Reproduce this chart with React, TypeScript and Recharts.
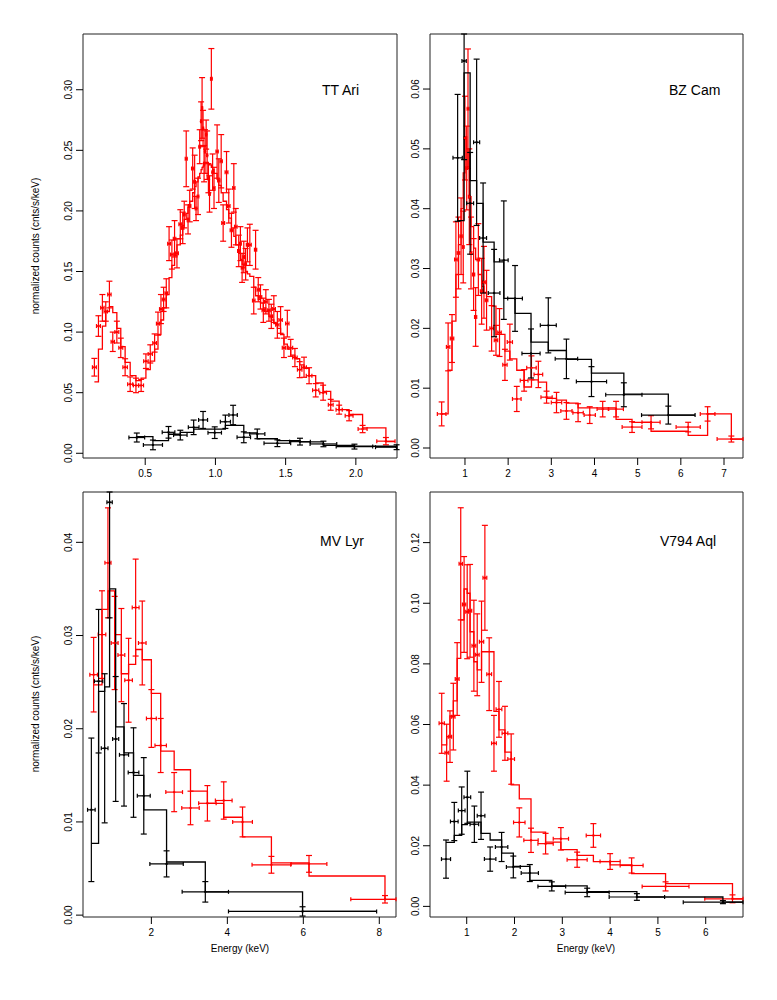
import React from "react";
import {
  ComposedChart,
  Scatter,
  Line,
  XAxis,
  YAxis,
  ErrorBar,
  ReferenceArea,
} from "recharts";

// each bin: [energy, half width, counts, error, model]
type Bin = [number, number, number, number, number];

const FONT = "'Liberation Sans', Arial, Helvetica, sans-serif";
const RED = "#ff0000";
const BLACK = "#000000";

// ---- TT Ari ----
const ttAriXTicks = [0.5, 1.0, 1.5, 2.0];
const ttAriYTicks = [0, 0.05, 0.1, 0.15, 0.2, 0.25, 0.3];

const ttAriRed: Bin[] = [
  [0.138, 0.014, 0.071, 0.0073, 0.059],
  [0.167, 0.014, 0.105, 0.0085, 0.086],
  [0.195, 0.012, 0.12, 0.011, 0.105],
  [0.219, 0.012, 0.117, 0.008, 0.117],
  [0.245, 0.012, 0.131, 0.011, 0.121],
  [0.269, 0.012, 0.092, 0.008, 0.116],
  [0.298, 0.014, 0.1, 0.009, 0.103],
  [0.326, 0.014, 0.087, 0.008, 0.088],
  [0.357, 0.016, 0.071, 0.007, 0.075],
  [0.393, 0.018, 0.057, 0.006, 0.064],
  [0.434, 0.018, 0.056, 0.006, 0.06],
  [0.471, 0.017, 0.056, 0.005, 0.062],
  [0.505, 0.016, 0.076, 0.006, 0.069],
  [0.536, 0.015, 0.082, 0.0075, 0.076],
  [0.567, 0.013, 0.091, 0.0075, 0.086],
  [0.591, 0.011, 0.107, 0.0095, 0.098],
  [0.612, 0.01, 0.119, 0.012, 0.11],
  [0.631, 0.01, 0.127, 0.01, 0.12],
  [0.65, 0.009, 0.132, 0.012, 0.131],
  [0.67, 0.01, 0.173, 0.014, 0.145],
  [0.69, 0.01, 0.164, 0.012, 0.155],
  [0.709, 0.009, 0.177, 0.015, 0.163],
  [0.726, 0.01, 0.165, 0.012, 0.172],
  [0.75, 0.01, 0.189, 0.012, 0.18],
  [0.767, 0.008, 0.186, 0.013, 0.188],
  [0.778, 0.006, 0.197, 0.011, 0.193],
  [0.792, 0.007, 0.243, 0.023, 0.198],
  [0.805, 0.006, 0.193, 0.012, 0.203],
  [0.817, 0.008, 0.204, 0.013, 0.208],
  [0.838, 0.008, 0.235, 0.017, 0.215],
  [0.852, 0.006, 0.224, 0.022, 0.22],
  [0.862, 0.006, 0.202, 0.01, 0.224],
  [0.876, 0.006, 0.212, 0.015, 0.228],
  [0.888, 0.006, 0.253, 0.014, 0.231],
  [0.898, 0.004, 0.274, 0.016, 0.234],
  [0.905, 0.004, 0.285, 0.025, 0.236],
  [0.912, 0.004, 0.268, 0.015, 0.237],
  [0.919, 0.004, 0.239, 0.015, 0.239],
  [0.926, 0.004, 0.249, 0.018, 0.24],
  [0.934, 0.004, 0.263, 0.012, 0.24],
  [0.941, 0.004, 0.246, 0.02, 0.24],
  [0.95, 0.004, 0.227, 0.012, 0.239],
  [0.958, 0.005, 0.214, 0.015, 0.238],
  [0.971, 0.006, 0.309, 0.025, 0.236],
  [0.98, 0.005, 0.232, 0.015, 0.234],
  [0.99, 0.007, 0.219, 0.017, 0.231],
  [1.012, 0.008, 0.249, 0.022, 0.226],
  [1.024, 0.008, 0.225, 0.018, 0.221],
  [1.041, 0.008, 0.241, 0.022, 0.215],
  [1.055, 0.01, 0.19, 0.015, 0.208],
  [1.079, 0.01, 0.232, 0.017, 0.201],
  [1.095, 0.009, 0.204, 0.014, 0.194],
  [1.114, 0.009, 0.184, 0.014, 0.186],
  [1.131, 0.008, 0.219, 0.02, 0.179],
  [1.145, 0.009, 0.187, 0.015, 0.172],
  [1.166, 0.008, 0.167, 0.013, 0.165],
  [1.178, 0.006, 0.173, 0.014, 0.16],
  [1.19, 0.006, 0.153, 0.012, 0.156],
  [1.202, 0.006, 0.162, 0.013, 0.153],
  [1.215, 0.006, 0.156, 0.013, 0.15],
  [1.228, 0.008, 0.172, 0.014, 0.148],
  [1.245, 0.01, 0.172, 0.017, 0.146],
  [1.273, 0.009, 0.126, 0.011, 0.137],
  [1.286, 0.008, 0.168, 0.016, 0.13],
  [1.305, 0.008, 0.135, 0.01, 0.127],
  [1.321, 0.009, 0.129, 0.01, 0.124],
  [1.341, 0.009, 0.118, 0.01, 0.12],
  [1.359, 0.01, 0.125, 0.01, 0.117],
  [1.381, 0.009, 0.118, 0.009, 0.113],
  [1.398, 0.009, 0.113, 0.01, 0.11],
  [1.416, 0.011, 0.119, 0.011, 0.107],
  [1.441, 0.012, 0.106, 0.011, 0.103],
  [1.464, 0.012, 0.11, 0.011, 0.098],
  [1.488, 0.012, 0.087, 0.008, 0.09],
  [1.512, 0.012, 0.107, 0.011, 0.086],
  [1.536, 0.014, 0.087, 0.007, 0.081],
  [1.566, 0.016, 0.079, 0.0075, 0.078],
  [1.6, 0.016, 0.069, 0.0066, 0.073],
  [1.631, 0.017, 0.071, 0.0083, 0.07],
  [1.667, 0.02, 0.064, 0.0066, 0.064],
  [1.714, 0.022, 0.052, 0.0055, 0.058],
  [1.767, 0.024, 0.05, 0.0062, 0.051],
  [1.821, 0.017, 0.04, 0.0045, 0.043],
  [1.881, 0.022, 0.036, 0.0037, 0.036],
  [1.952, 0.028, 0.031, 0.0042, 0.032],
  [2.048, 0.032, 0.02, 0.003, 0.021],
  [2.214, 0.065, 0.01, 0.003, 0.0096],
];

const ttAriBlack: Bin[] = [
  [0.44, 0.056, 0.013, 0.0037, 0.0137],
  [0.555, 0.068, 0.0069, 0.004, 0.0104],
  [0.666, 0.045, 0.0173, 0.0048, 0.0157],
  [0.75, 0.048, 0.015, 0.004, 0.0173],
  [0.845, 0.038, 0.0214, 0.006, 0.02],
  [0.912, 0.032, 0.0275, 0.007, 0.02],
  [0.995, 0.048, 0.017, 0.0048, 0.02],
  [1.071, 0.036, 0.026, 0.0055, 0.023],
  [1.126, 0.03, 0.0316, 0.008, 0.023],
  [1.202, 0.048, 0.0132, 0.0045, 0.0168],
  [1.298, 0.054, 0.016, 0.004, 0.012],
  [1.441, 0.095, 0.0083, 0.0028, 0.0105],
  [1.602, 0.074, 0.0096, 0.0028, 0.0094],
  [1.769, 0.095, 0.0077, 0.0023, 0.0066],
  [1.99, 0.13, 0.0055, 0.002, 0.0058],
  [2.29, 0.15, 0.005, 0.002, 0.0055],
];

// ---- BZ Cam ----
const bzCamXTicks = [1, 2, 3, 4, 5, 6, 7];
const bzCamYTicks = [0, 0.01, 0.02, 0.03, 0.04, 0.05, 0.06];

const bzCamRed: Bin[] = [
  [0.46, 0.1, 0.0057, 0.002, 0.0057],
  [0.61, 0.04, 0.0169, 0.004, 0.013],
  [0.7, 0.04, 0.0183, 0.004, 0.0212],
  [0.79, 0.03, 0.0315, 0.0063, 0.029],
  [0.85, 0.03, 0.0326, 0.006, 0.034],
  [0.91, 0.025, 0.0354, 0.0064, 0.04],
  [0.96, 0.02, 0.0336, 0.006, 0.046],
  [1.0, 0.02, 0.0518, 0.007, 0.052],
  [1.04, 0.02, 0.0468, 0.007, 0.05],
  [1.07, 0.02, 0.0567, 0.01, 0.047],
  [1.1, 0.02, 0.042, 0.008, 0.042],
  [1.14, 0.02, 0.0326, 0.006, 0.037],
  [1.2, 0.025, 0.029, 0.006, 0.0334],
  [1.247, 0.025, 0.0219, 0.0049, 0.0315],
  [1.31, 0.03, 0.0315, 0.006, 0.029],
  [1.386, 0.03, 0.0262, 0.0055, 0.027],
  [1.44, 0.03, 0.0277, 0.006, 0.026],
  [1.5, 0.03, 0.0247, 0.005, 0.0253],
  [1.617, 0.04, 0.02, 0.0038, 0.0237],
  [1.718, 0.04, 0.018, 0.0025, 0.019],
  [1.8, 0.04, 0.0193, 0.004, 0.019],
  [1.926, 0.05, 0.0139, 0.0026, 0.0162],
  [2.04, 0.06, 0.0177, 0.003, 0.0149],
  [2.2, 0.1, 0.0082, 0.0021, 0.013],
  [2.37, 0.09, 0.0113, 0.0018, 0.0102],
  [2.54, 0.11, 0.0134, 0.002, 0.0114],
  [2.7, 0.1, 0.0123, 0.0022, 0.011],
  [2.89, 0.13, 0.0085, 0.001, 0.0083],
  [3.12, 0.12, 0.0076, 0.0017, 0.008],
  [3.35, 0.13, 0.0062, 0.0014, 0.0075],
  [3.62, 0.12, 0.0059, 0.0015, 0.0067],
  [3.89, 0.13, 0.0055, 0.0014, 0.0067],
  [4.19, 0.13, 0.0065, 0.0013, 0.0067],
  [4.5, 0.17, 0.0065, 0.0013, 0.0048],
  [4.87, 0.23, 0.0035, 0.0009, 0.0043],
  [5.31, 0.21, 0.0043, 0.0011, 0.0028],
  [6.17, 0.28, 0.0035, 0.0008, 0.0021],
  [6.62, 0.17, 0.0057, 0.0012, 0.0057],
  [7.17, 0.33, 0.0015, 0.0005, 0.0015],
];

const bzCamBlack: Bin[] = [
  [0.83, 0.108, 0.0485, 0.0106, 0.038],
  [0.98, 0.05, 0.0647, 0.0165, 0.0627],
  [1.12, 0.08, 0.0409, 0.0085, 0.0447],
  [1.27, 0.07, 0.0511, 0.0139, 0.0409],
  [1.42, 0.08, 0.0351, 0.0092, 0.0344],
  [1.675, 0.135, 0.0259, 0.0073, 0.0311],
  [1.9, 0.1, 0.0314, 0.0099, 0.025],
  [2.16, 0.17, 0.025, 0.0055, 0.0225],
  [2.53, 0.21, 0.0158, 0.0041, 0.0177],
  [2.93, 0.185, 0.0205, 0.0046, 0.0163],
  [3.35, 0.26, 0.0149, 0.0033, 0.0148],
  [3.93, 0.35, 0.0111, 0.0025, 0.0125],
  [4.68, 0.42, 0.0089, 0.002, 0.009],
  [5.71, 0.62, 0.0055, 0.0015, 0.0055],
];

// ---- MV Lyr ----
const mvLyrXTicks = [2, 4, 6, 8];
const mvLyrYTicks = [0, 0.01, 0.02, 0.03, 0.04];

const mvLyrRed: Bin[] = [
  [0.48, 0.1, 0.0258, 0.004, 0.0247],
  [0.7, 0.1, 0.0301, 0.0047, 0.0328],
  [0.857, 0.08, 0.0378, 0.0059, 0.0348],
  [1.033, 0.09, 0.0292, 0.005, 0.0301],
  [1.21, 0.09, 0.0279, 0.005, 0.0259],
  [1.4, 0.1, 0.0252, 0.0045, 0.0269],
  [1.586, 0.09, 0.033, 0.0052, 0.0285],
  [1.76, 0.1, 0.0292, 0.0045, 0.0274],
  [2.0, 0.13, 0.0211, 0.0031, 0.0238],
  [2.245, 0.15, 0.0182, 0.0029, 0.0176],
  [2.6, 0.22, 0.0132, 0.0021, 0.0156],
  [3.03, 0.23, 0.0115, 0.0018, 0.0133],
  [3.475, 0.23, 0.012, 0.0019, 0.012],
  [3.905, 0.22, 0.0123, 0.002, 0.0105],
  [4.4, 0.26, 0.01, 0.0016, 0.0084],
  [5.16, 0.51, 0.0054, 0.0009, 0.0056],
  [6.15, 0.47, 0.0055, 0.0009, 0.0042],
  [8.15, 0.9, 0.0017, 0.0004, 0.0017],
];

const mvLyrBlack: Bin[] = [
  [0.42, 0.1, 0.0113, 0.0077, 0.0077],
  [0.61, 0.11, 0.0251, 0.0077, 0.024],
  [0.77, 0.088, 0.0179, 0.008, 0.0245],
  [0.9, 0.07, 0.0443, 0.0124, 0.035],
  [1.06, 0.08, 0.0189, 0.0067, 0.0202],
  [1.28, 0.12, 0.0172, 0.0055, 0.0174],
  [1.53, 0.14, 0.0153, 0.0048, 0.015],
  [1.8, 0.17, 0.0128, 0.0041, 0.0113],
  [2.4, 0.44, 0.0055, 0.0014, 0.0057],
  [3.42, 0.61, 0.0025, 0.0011, 0.0025],
  [5.98, 1.95, 0.0004, 0.0005, 0.0004],
];

// ---- V794 Aql ----
const v794XTicks = [1, 2, 3, 4, 5, 6];
const v794YTicks = [0, 0.02, 0.04, 0.06, 0.08, 0.1, 0.12];

const v794Red: Bin[] = [
  [0.477, 0.055, 0.0604, 0.0099, 0.0533],
  [0.58, 0.035, 0.0507, 0.0094, 0.056],
  [0.65, 0.035, 0.056, 0.0085, 0.0628],
  [0.72, 0.035, 0.0626, 0.011, 0.0678],
  [0.8, 0.04, 0.075, 0.012, 0.0818],
  [0.875, 0.035, 0.113, 0.0185, 0.0945],
  [0.945, 0.035, 0.0996, 0.0158, 0.1047],
  [1.01, 0.03, 0.0972, 0.0155, 0.1033],
  [1.07, 0.035, 0.0975, 0.0153, 0.0906],
  [1.15, 0.04, 0.086, 0.015, 0.0807],
  [1.22, 0.04, 0.083, 0.0135, 0.078],
  [1.31, 0.045, 0.0873, 0.0134, 0.084],
  [1.38, 0.04, 0.1084, 0.0173, 0.084],
  [1.47, 0.05, 0.0766, 0.012, 0.084],
  [1.57, 0.05, 0.0538, 0.0092, 0.0643],
  [1.675, 0.06, 0.065, 0.0092, 0.0582],
  [1.8, 0.06, 0.0571, 0.0089, 0.0509],
  [1.93, 0.07, 0.0486, 0.0083, 0.0401],
  [2.1, 0.12, 0.0277, 0.0048, 0.0355],
  [2.345, 0.15, 0.0218, 0.004, 0.0245],
  [2.65, 0.16, 0.0207, 0.0034, 0.0212],
  [2.97, 0.16, 0.0223, 0.0037, 0.0187],
  [3.31, 0.21, 0.0154, 0.0025, 0.0168],
  [3.65, 0.15, 0.0234, 0.0039, 0.0148],
  [4.0, 0.21, 0.0148, 0.0026, 0.0137],
  [4.45, 0.24, 0.0135, 0.0025, 0.0108],
  [5.16, 0.49, 0.0066, 0.0015, 0.0075],
  [6.56, 0.58, 0.0025, 0.0013, 0.0025],
];

const v794Black: Bin[] = [
  [0.567, 0.095, 0.0156, 0.0063, 0.0211],
  [0.74, 0.08, 0.028, 0.0063, 0.0234],
  [0.895, 0.07, 0.0316, 0.0078, 0.027],
  [1.013, 0.07, 0.036, 0.0086, 0.0278],
  [1.16, 0.09, 0.0271, 0.006, 0.0278],
  [1.3, 0.08, 0.0299, 0.0078, 0.0241],
  [1.49, 0.12, 0.0156, 0.004, 0.0219],
  [1.73, 0.13, 0.0196, 0.0048, 0.0176],
  [1.975, 0.145, 0.013, 0.0036, 0.0132],
  [2.32, 0.18, 0.011, 0.0028, 0.0086],
  [2.78, 0.29, 0.0066, 0.0015, 0.0068],
  [3.52, 0.46, 0.0046, 0.0014, 0.0049],
  [4.56, 0.58, 0.0031, 0.0011, 0.0031],
  [6.36, 0.83, 0.0014, 0.0005, 0.0014],
];

// error bars are cut at the plot frame, like the original plot
const toPoints = (bins: Bin[], xd: [number, number], yd: [number, number]) =>
  bins.map(([x, ex, y, ey]) => ({
    x,
    y,
    ex: [Math.min(ex, x - xd[0]), Math.min(ex, xd[1] - x)],
    ey: [Math.min(ey, y - yd[0]), Math.min(ey, yd[1] - y)],
  }));

// model drawn as a step that starts at each bin
const toModel = (bins: Bin[]) => {
  const pts = bins.map(([x, , , , m]) => ({ x, m }));
  const last = bins[bins.length - 1];
  pts.push({ x: last[0] + last[1], m: last[4] });
  return pts;
};

const Dot = (p: any) => <circle cx={p.cx} cy={p.cy} r={1.2} fill={p.fill} />;

const VTick = (props: any) => {
  const { x, y, payload, fmt } = props;
  const tx = x - 2;
  return (
    <text
      x={tx}
      y={y}
      transform={`rotate(-90 ${tx} ${y})`}
      textAnchor="middle"
      fontSize={10}
      fontFamily={FONT}
      fill="#000"
    >
      {fmt(payload.value)}
    </text>
  );
};

interface PanelProps {
  left: number;
  top: number;
  width: number;
  height: number;
  margin: { top: number; right: number; bottom: number; left: number };
  yWidth: number;
  xHeight: number;
  xDomain: [number, number];
  yDomain: [number, number];
  xTicks: number[];
  yTicks: number[];
  xFmt: (v: number) => string;
  yFmt: (v: number) => string;
  red: Bin[];
  black: Bin[];
}

function Panel(p: PanelProps) {
  return (
    <div style={{ position: "absolute", left: p.left, top: p.top }}>
      <ComposedChart width={p.width} height={p.height} margin={p.margin}>
        <XAxis
          type="number"
          dataKey="x"
          domain={p.xDomain}
          ticks={p.xTicks}
          tickFormatter={p.xFmt}
          allowDataOverflow
          axisLine={false}
          tickLine={{ stroke: "#000" }}
          tickSize={7}
          tickMargin={5}
          height={p.xHeight}
          tick={{ fontSize: 10, fill: "#000", fontFamily: FONT }}
        />
        <YAxis
          type="number"
          domain={p.yDomain}
          ticks={p.yTicks}
          allowDataOverflow
          axisLine={false}
          tickLine={{ stroke: "#000" }}
          tickSize={7}
          width={p.yWidth}
          tick={<VTick fmt={p.yFmt} />}
        />
        <ReferenceArea
          x1={p.xDomain[0]}
          x2={p.xDomain[1]}
          y1={p.yDomain[0]}
          y2={p.yDomain[1]}
          fill="none"
          fillOpacity={0}
          stroke="#222"
          strokeWidth={1}
          ifOverflow="visible"
        />
        <Line
          data={toModel(p.red)}
          dataKey="m"
          type="stepAfter"
          stroke={RED}
          strokeWidth={1.3}
          dot={false}
          isAnimationActive={false}
        />
        <Scatter
          data={toPoints(p.red, p.xDomain, p.yDomain)}
          dataKey="y"
          fill={RED}
          shape={Dot}
          isAnimationActive={false}
        >
          <ErrorBar dataKey="ey" direction="y" width={3} stroke={RED} strokeWidth={1.2} />
          <ErrorBar dataKey="ex" direction="x" width={2} stroke={RED} strokeWidth={1.2} />
        </Scatter>
        <Line
          data={toModel(p.black)}
          dataKey="m"
          type="stepAfter"
          stroke={BLACK}
          strokeWidth={1.3}
          dot={false}
          isAnimationActive={false}
        />
        <Scatter
          data={toPoints(p.black, p.xDomain, p.yDomain)}
          dataKey="y"
          fill={BLACK}
          shape={Dot}
          isAnimationActive={false}
        >
          <ErrorBar dataKey="ey" direction="y" width={3} stroke={BLACK} strokeWidth={1.2} />
          <ErrorBar dataKey="ex" direction="x" width={2} stroke={BLACK} strokeWidth={1.2} />
        </Scatter>
      </ComposedChart>
    </div>
  );
}

const f1 = (v: number) => v.toFixed(1);
const f0 = (v: number) => String(v);
const f2 = (v: number) => v.toFixed(2);

const label = (
  text: string,
  x: number,
  y: number,
  size: number,
  rotate = false,
  anchor: "start" | "middle" = "start"
) => (
  <text
    x={x}
    y={y}
    fontSize={size}
    fontFamily={FONT}
    fill="#000"
    textAnchor={anchor}
    transform={rotate ? `rotate(-90 ${x} ${y})` : undefined}
  >
    {text}
  </text>
);

export default function App() {
  return (
    <div
      style={{
        position: "absolute",
        left: 0,
        top: 0,
        width: 777,
        height: 1000,
        background: "#fff",
      }}
    >
      <Panel
        left={0}
        top={0}
        width={400}
        height={500}
        margin={{ top: 34, right: 3, bottom: 0, left: 0 }}
        yWidth={83}
        xHeight={42}
        xDomain={[0.057, 2.293]}
        yDomain={[-0.0039, 0.346]}
        xTicks={ttAriXTicks}
        yTicks={ttAriYTicks}
        xFmt={f1}
        yFmt={f2}
        red={ttAriRed}
        black={ttAriBlack}
      />
      <Panel
        left={400}
        top={0}
        width={377}
        height={500}
        margin={{ top: 34, right: 34, bottom: 0, left: 0 }}
        yWidth={30}
        xHeight={42}
        xDomain={[0.19, 7.44]}
        yDomain={[-0.00167, 0.0692]}
        xTicks={bzCamXTicks}
        yTicks={bzCamYTicks}
        xFmt={f0}
        yFmt={f2}
        red={bzCamRed}
        black={bzCamBlack}
      />
      <Panel
        left={0}
        top={480}
        width={400}
        height={520}
        margin={{ top: 12, right: 4, bottom: 0, left: 0 }}
        yWidth={83}
        xHeight={83}
        xDomain={[0.2, 8.44]}
        yDomain={[-0.0002, 0.0454]}
        xTicks={mvLyrXTicks}
        yTicks={mvLyrYTicks}
        xFmt={f0}
        yFmt={f2}
        red={mvLyrRed}
        black={mvLyrBlack}
      />
      <Panel
        left={400}
        top={480}
        width={377}
        height={520}
        margin={{ top: 12, right: 34, bottom: 0, left: 0 }}
        yWidth={30}
        xHeight={83}
        xDomain={[0.232, 6.78]}
        yDomain={[-0.0035, 0.1367]}
        xTicks={v794XTicks}
        yTicks={v794YTicks}
        xFmt={f0}
        yFmt={f2}
        red={v794Red}
        black={v794Black}
      />
      <svg
        width={777}
        height={1000}
        style={{ position: "absolute", left: 0, top: 0, pointerEvents: "none" }}
      >
        {label("TT Ari", 322, 95, 14)}
        {label("BZ Cam", 669, 95, 14)}
        {label("MV Lyr", 320, 546, 14)}
        {label("V794 Aql", 660, 546, 14)}
        {label("normalized counts (cnts/s/keV)", 39, 246, 10, true, "middle")}
        {label("normalized counts (cnts/s/keV)", 39, 704, 10, true, "middle")}
        {label("Energy (keV)", 240, 952, 10, false, "middle")}
        {label("Energy (keV)", 586, 952, 10, false, "middle")}
      </svg>
    </div>
  );
}
